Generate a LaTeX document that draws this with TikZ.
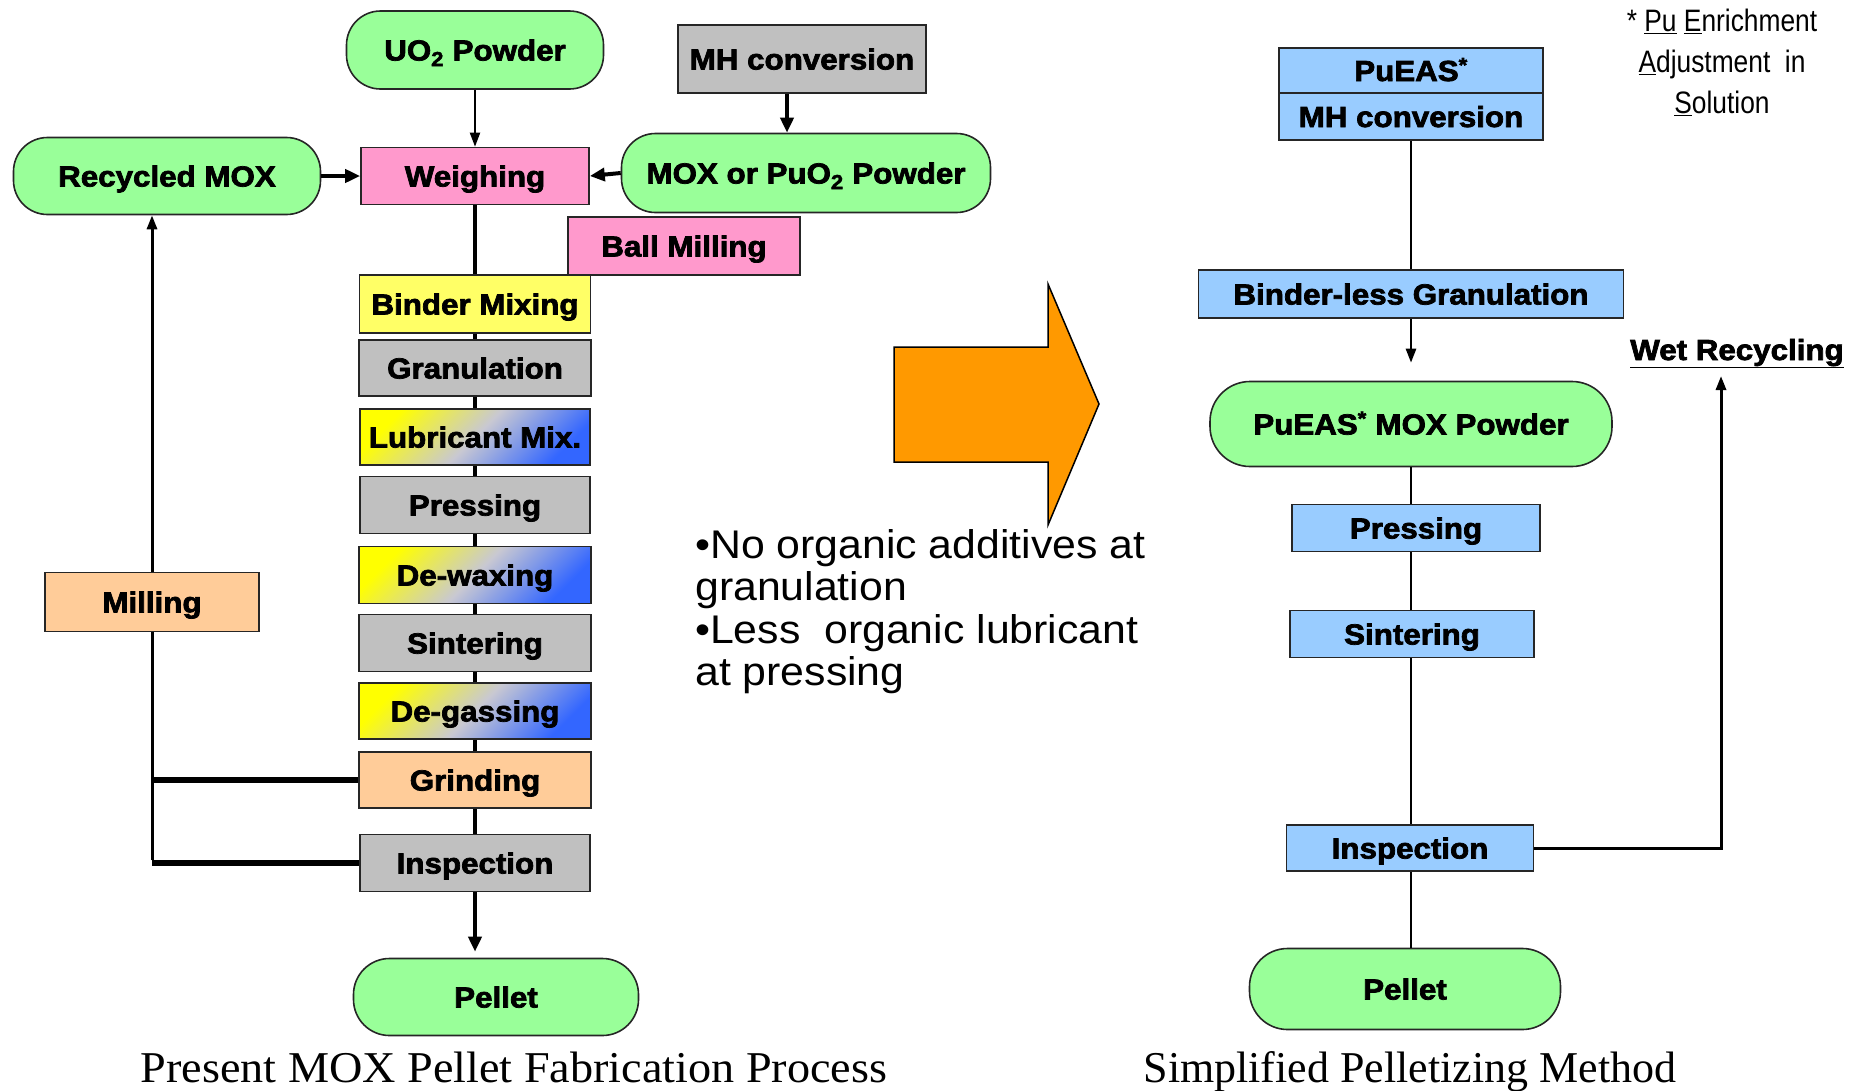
\documentclass[tikz,border=0pt]{standalone}
\usepackage{fontspec}
\setmainfont{Liberation Sans}
\newfontfamily\bfont{Liberation Sans}[FakeStretch=1.08, BoldFeatures={FakeBold=2.5}]
\newfontfamily\nfont{Liberation Sans}[FakeStretch=0.85]
\newfontfamily\wfont{Liberation Sans}[FakeStretch=1.07]
\newfontfamily\capfont{Liberation Serif}
\newfontfamily\capwfont{Liberation Serif}[FakeStretch=1.05]
\usetikzlibrary{arrows.meta}
\definecolor{termgreen}{HTML}{99FF99}
\definecolor{pinkc}{HTML}{FF99CC}
\definecolor{grayc}{HTML}{C0C0C0}
\definecolor{yellowc}{HTML}{FFFF66}
\definecolor{orangec}{HTML}{FFCC99}
\definecolor{bluec}{HTML}{99CCFF}
\definecolor{arrowc}{HTML}{FF9900}
\definecolor{gradblue}{HTML}{3366FF}
\definecolor{gradmid}{HTML}{C8C8D2}
\begin{document}
\begin{tikzpicture}[x=1pt,y=-1pt,
  base/.style={draw=black!85, line width=1.6pt, inner sep=0pt,
    font=\bfont\bfseries\fontsize{29}{33}\selectfont,
    text height=27pt, text depth=6pt, align=center},
  term/.style={base, fill=termgreen, rounded corners=34pt},
  pinkbox/.style={base, fill=pinkc},
  graybox/.style={base, fill=grayc},
  yellowbox/.style={base, fill=yellowc},
  orangebox/.style={base, fill=orangec},
  bluebox/.style={base, fill=bluec},
  gradbox/.style={base, top color=yellow, bottom color=gradblue, middle color=gradmid, shading angle=45},
  thin/.style={line width=2pt},
  spine/.style={line width=4.5pt},
  tip/.style={-{Triangle[length=15pt,width=13pt]}},
  smalltip/.style={-{Triangle[length=14pt,width=10pt]}},
  rline/.style={line width=2.5pt}
]
\useasboundingbox (0,0) rectangle (1866,1090);

% ---------- left process ----------
\node[term, minimum width=257pt, minimum height=78pt] (uo2) at (475,50) {UO\textsubscript{2} Powder};
\node[graybox, minimum width=248pt, minimum height=68pt] (mh) at (802,59) {MH conversion};
\node[term, minimum width=307pt, minimum height=77pt] (recyc) at (167,176) {Recycled MOX};
\node[pinkbox, minimum width=228pt, minimum height=57pt] (weigh) at (475,176) {Weighing};
\node[term, minimum width=369pt, minimum height=79pt] (mox) at (806,173) {MOX or PuO\textsubscript{2} Powder};
\node[pinkbox, minimum width=232pt, minimum height=58pt] (ball) at (684,246) {Ball Milling};
\node[yellowbox, minimum width=231pt, minimum height=58pt] (binder) at (475,304) {Binder Mixing};
\node[graybox, minimum width=232pt, minimum height=56pt] (gran) at (475,368) {Granulation};
\node[gradbox, minimum width=230pt, minimum height=56pt] (lub) at (475,437) {Lubricant Mix.};
\node[graybox, minimum width=230pt, minimum height=57pt] (press) at (475,505) {Pressing};
\node[gradbox, minimum width=232pt, minimum height=57pt] (dewax) at (475,575) {De-waxing};
\node[graybox, minimum width=232pt, minimum height=57pt] (sint) at (475,643) {Sintering};
\node[gradbox, minimum width=232pt, minimum height=56pt] (degas) at (475,711) {De-gassing};
\node[orangebox, minimum width=232pt, minimum height=56pt] (grind) at (475,780) {Grinding};
\node[graybox, minimum width=230pt, minimum height=57pt] (insp) at (475,863) {Inspection};
\node[term, minimum width=285pt, minimum height=77pt, rounded corners=36pt] (pellet) at (496,997) {Pellet};
\node[orangebox, minimum width=214pt, minimum height=59pt] (mill) at (152,602) {Milling};

\draw[thin, smalltip] (uo2.south) -- (uo2.south |- weigh.north);
\draw[line width=4pt, tip] ([xshift=-15pt]mh.south) -- ([xshift=-15pt]mh.south |- mox.north);
\draw[line width=4pt, tip] (recyc.east) -- (weigh.west);
\draw[line width=4pt, tip] (mox.west) -- (weigh.east);

\draw[spine] (weigh.south) -- (binder.north);
\draw[spine] (binder.south) -- (gran.north);
\draw[spine] (gran.south) -- (lub.north);
\draw[spine] (lub.south) -- (press.north);
\draw[spine] (press.south) -- (dewax.north);
\draw[spine] (dewax.south) -- (sint.north);
\draw[spine] (sint.south) -- (degas.north);
\draw[spine] (degas.south) -- (grind.north);
\draw[spine] (grind.south) -- (insp.north);
\draw[spine, tip, shorten >=6pt] (insp.south) -- (insp.south |- pellet.north);

\draw[line width=5.5pt] (grind.west) -- (grind.west -| mill.south);
\draw[line width=5.5pt] (insp.west) -- (insp.west -| mill.south);
\draw[line width=3pt] ([yshift=2.75pt]insp.west -| mill.south) -- (mill.south);
\draw[line width=3pt, smalltip] (mill.north) -- (mill.north |- recyc.south);

% ---------- big arrow and notes ----------
\draw[fill=arrowc, line width=1.5pt, line join=miter]
  (894,347) -- (1048,347) -- (1048,284) -- (1099,404) -- (1048,525) -- (1048,462) -- (894,462) -- cycle;
\node[anchor=north west, inner sep=0pt, align=left, font=\wfont\fontsize{40}{42.5}\selectfont] (notes) at (695,529)
  {\textbullet No organic additives at\\granulation\\\textbullet Less\ \ organic lubricant\\at pressing};

% ---------- right process ----------
\node[bluebox, minimum width=264pt, minimum height=45pt] (pueas) at (1411,70.5) {PuEAS\textsuperscript{*}};
\node[bluebox, minimum width=264pt, minimum height=47pt] (mhc) at (1411,116.5) {MH conversion};
\node[bluebox, minimum width=425pt, minimum height=48pt] (bless) at (1411,294) {Binder-less Granulation};
\node[term, minimum width=402pt, minimum height=85pt, rounded corners=40pt] (rpow) at (1411,424) {PuEAS\textsuperscript{*} MOX\ Powder};
\node[bluebox, minimum width=248pt, minimum height=47pt] (rpress) at (1416,528) {Pressing};
\node[bluebox, minimum width=244pt, minimum height=47pt] (rsint) at (1412,634) {Sintering};
\node[bluebox, minimum width=247pt, minimum height=46pt] (rinsp) at (1410,848) {Inspection};
\node[term, minimum width=311pt, minimum height=81pt, rounded corners=38pt] (rpellet) at (1405,989) {Pellet};
\node[anchor=base, inner sep=0pt, font=\bfont\bfseries\fontsize{29}{33}\selectfont] (wet) at (1737,360) {\underline{Wet Recycling}};
\coordinate (wetin) at (1721,376);

\draw[rline] (mhc.south) -- (mhc.south |- bless.north);
\draw[rline, smalltip, shorten >=18pt] (mhc.south |- bless.south) -- (mhc.south |- rpow.north);
\draw[rline] (rpow.south) -- (rpow.south |- rpress.north);
\draw[rline] (rpow.south |- rpress.south) -- (rpow.south |- rsint.north);
\draw[rline] (rpow.south |- rsint.south) -- (rpow.south |- rinsp.north);
\draw[rline] (rpow.south |- rinsp.south) -- (rpow.south |- rpellet.north);
\draw[line width=3pt, smalltip] (rinsp.east) -- (rinsp.east -| wetin) -- (wetin);

\node[anchor=north, inner sep=0pt, align=center, font=\nfont\fontsize{31}{41}\selectfont] (foot) at (1722,9)
  {* \underline{Pu} \underline{E}nrichment\\\underline{A}djustment\ \ in\\\underline{S}olution};

% ---------- captions ----------
\node[anchor=base, inner sep=0pt, font=\capwfont\fontsize{44}{48}\selectfont] (cap1) at (514,1082) {Present MOX Pellet Fabrication Process};
\node[anchor=base, inner sep=0pt, font=\capfont\fontsize{44}{48}\selectfont] (cap2) at (1410,1082) {Simplified Pelletizing Method};
\end{tikzpicture}
\end{document}
